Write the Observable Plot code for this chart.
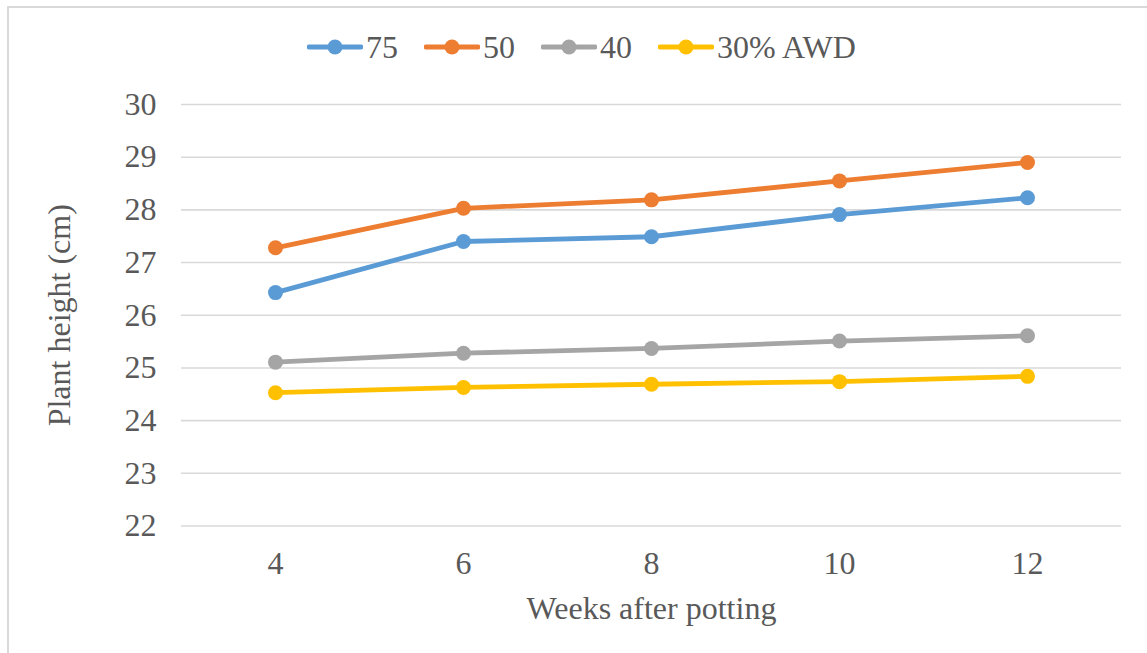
<!DOCTYPE html>
<html>
<head>
<meta charset="utf-8">
<script src="https://cdn.jsdelivr.net/npm/d3@7"></script>
<script src="https://cdn.jsdelivr.net/npm/@observablehq/plot@0.6"></script>
<style>
  html, body { margin: 0; padding: 0; background: #fff; }
  #chart {
    position: relative;
    width: 1147px;
    height: 653px;
    overflow: hidden;
    background: #fff;
    font-family: "Liberation Serif", "Times New Roman", serif;
    color: #595959;
  }
  #frame {
    position: absolute;
    left: 7px; top: 6px; right: 0; bottom: 0;
    border-top: 2px solid #d9d9d9;
    border-left: 2px solid #d9d9d9;
    pointer-events: none;
  }
  #legend {
    position: relative;
    height: 80px;
  }
  #legend .items {
    position: absolute;
    left: 307px;
    top: 27px;
    height: 40px;
    display: flex;
    align-items: center;
  }
  #legend .item {
    display: flex;
    align-items: center;
    margin-right: 26px;
    font-family: "Liberation Serif", "Times New Roman", serif;
    font-size: 32px;
    line-height: 40px;
  }
  #legend .item svg { display: block; margin-right: 3px; }
  #plot svg { display: block; }
  #plot svg text { font-family: "Liberation Serif", "Times New Roman", serif; }
</style>
</head>
<body>
<div id="chart">
  <div id="frame"></div>
  <div id="legend"><div class="items"></div></div>
  <div id="plot"></div>
</div>
<script>
// Plant height over time under four AWD irrigation levels
const weeks = [4, 6, 8, 10, 12];
const seriesNames = ["75", "50", "40", "30% AWD"];
const seriesColors = ["#5b9bd5", "#ed7d31", "#a5a5a5", "#ffc000"];
const height75 = [26.43, 27.40, 27.49, 27.91, 28.23];
const height50 = [27.28, 28.03, 28.19, 28.55, 28.90];
const height40 = [25.11, 25.28, 25.37, 25.51, 25.61];
const height30 = [24.53, 24.63, 24.69, 24.74, 24.84];
const yTicks = [22, 23, 24, 25, 26, 27, 28, 29, 30];

const seriesValues = [height75, height50, height40, height30];
const rows = seriesNames.flatMap((name, i) =>
  weeks.map((w, j) => ({series: name, week: w, height: seriesValues[i][j]}))
);

// Legend: line swatch with a marker, then the series name
const itemsDiv = document.querySelector("#legend .items");
seriesNames.forEach((name, i) => {
  const item = document.createElement("div");
  item.className = "item";
  item.innerHTML =
    `<svg width="56" height="20"><line x1="2" y1="10" x2="54" y2="10" stroke="${seriesColors[i]}" stroke-width="4.8" stroke-linecap="round"/>` +
    `<circle cx="28" cy="10" r="7.5" fill="${seriesColors[i]}"/></svg><span>${name}</span>`;
  itemsDiv.appendChild(item);
});

const textColor = "#595959";
const serif = "'Liberation Serif', 'Times New Roman', serif";
const chart = Plot.plot({
  width: 1147,
  height: 573,
  marginLeft: 181,
  marginRight: 26,
  marginTop: 24,
  marginBottom: 127.5,
  style: {
    fontFamily: serif,
    fontSize: "32px",
    color: textColor,
    background: "transparent",
    overflow: "visible"
  },
  x: {type: "point", domain: weeks, padding: 0.5},
  y: {domain: [22, 30]},
  color: {domain: seriesNames, range: seriesColors},
  marks: [
    Plot.gridY(yTicks, {stroke: "#d9d9d9", strokeOpacity: 1, strokeWidth: 1.6}),
    Plot.axisY(yTicks, {
      tickSize: 0,
      tickPadding: 25,
      tickFormat: d => String(d),
      fill: textColor,
      fontFamily: serif,
      fontSize: 32,
      label: "Plant height (cm)",
      labelAnchor: "center",
      labelArrow: "none",
      labelOffset: 134
    }),
    Plot.axisX(weeks, {
      tickSize: 0,
      tickPadding: 25,
      tickFormat: d => String(d),
      fill: textColor,
      fontFamily: serif,
      fontSize: 32,
      label: "Weeks after potting",
      labelAnchor: "center",
      labelArrow: "none",
      labelOffset: 93
    }),
    Plot.lineY(rows, {
      x: "week", y: "height", z: "series", stroke: "series",
      strokeWidth: 4.8, strokeLinejoin: "round", strokeLinecap: "round"
    }),
    Plot.dot(rows, {x: "week", y: "height", fill: "series", r: 7.5})
  ]
});
document.getElementById("plot").appendChild(chart);
</script>
</body>
</html>
